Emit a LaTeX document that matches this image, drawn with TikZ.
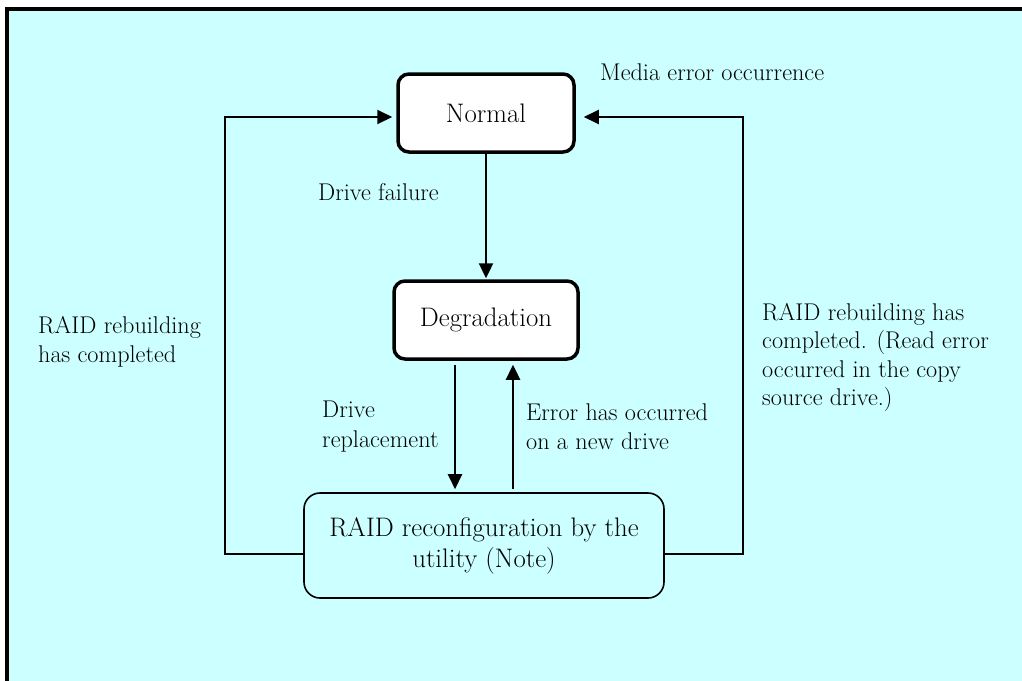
\documentclass[tikz,border=0pt]{standalone}
\usetikzlibrary{arrows.meta}
\definecolor{bgcyan}{RGB}{204,255,255}
\begin{document}
\begin{tikzpicture}[x=1pt,y=-1pt,
  statebox/.style={draw=black, line width=3.5pt, rounded corners=11pt, fill=white,
    font=\fontsize{26.8}{31}\selectfont, inner sep=0pt},
  procbox/.style={draw=black, line width=1.6pt, rounded corners=16pt, fill=bgcyan,
    font=\fontsize{26.8}{31}\selectfont, align=center, inner sep=0pt},
  lbl/.style={anchor=west, inner sep=0pt, align=left, font=\fontsize{24.2}{29.5}\selectfont},
  arr/.style={line width=2.4pt, -{Triangle[length=15pt,width=14pt]}},
  loopline/.style={line width=2pt, -{Triangle[length=15pt,width=14pt]}}
]
\useasboundingbox (0,0) rectangle (1022,680);
\clip (0,0) rectangle (1022,680);
\fill[white] (0,0) rectangle (1022,680);
\draw[line width=4pt, fill=bgcyan] (6.5,9.2) rectangle (1040,700);

\node[statebox, minimum width=176pt, minimum height=78pt] (normal) at (486,113) {Normal};
\node[statebox, minimum width=184pt, minimum height=78pt] (degr) at (486,320) {Degradation};
\node[procbox, minimum width=360pt, minimum height=105pt] (raid) at (484,545.5)
  {RAID reconfiguration by the\\utility (Note)};

\draw[arr, shorten >=1pt] (normal.south) -- (degr.north);
\draw[arr, shorten <=4pt, shorten >=3pt] ([xshift=-31pt]degr.south) -- ([xshift=-31pt]degr.south |- raid.north);
\draw[arr, shorten <=3pt, shorten >=4pt] ([xshift=27pt]degr.south |- raid.north) -- ([xshift=27pt]degr.south);

\draw[loopline, shorten >=4pt] ([yshift=-8pt]raid.west) -- ++(-78,0) |- ([yshift=-4pt]normal.west);
\draw[loopline, shorten >=8pt] ([yshift=-8pt]raid.east) -- ++(78,0) |- ([yshift=-4pt]normal.east);

\node[lbl] (media) at (600,72) {Media error occurrence};
\node[lbl] (dfail) at (318,192) {Drive failure};
\node[lbl] (lrebuild) at (38,342) {RAID rebuilding\\has completed};
\node[lbl, font=\fontsize{24.2}{28.5}\selectfont] (rrebuild) at (762,357.5) {RAID rebuilding has\\completed. (Read error\\occurred in the copy\\source drive.)};
\node[lbl] (drepl) at (322,426.5) {Drive\\replacement};
\node[lbl] (errnew) at (526,426.5) {Error has occurred\\on a new drive};
\end{tikzpicture}
\end{document}
